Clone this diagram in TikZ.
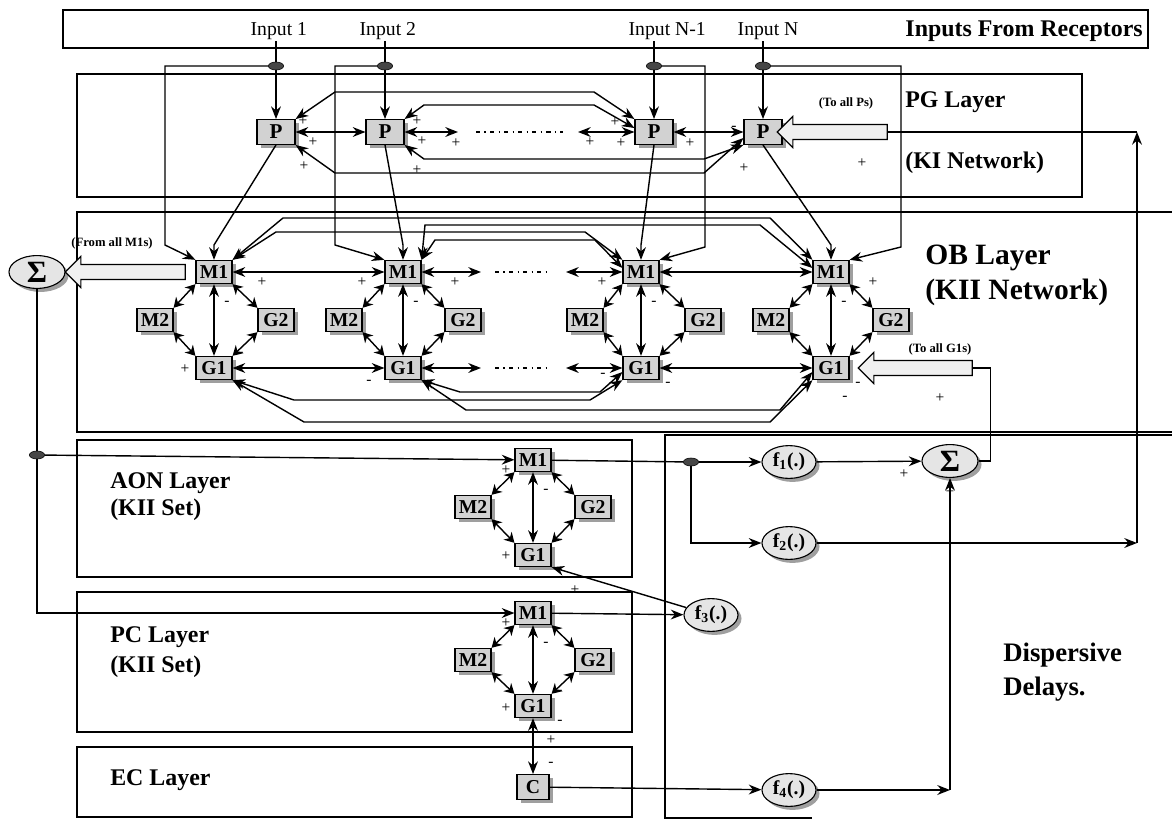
\documentclass[tikz,border=0pt]{standalone}
\usepackage{fontspec}
\setmainfont{Liberation Serif}
\usetikzlibrary{calc, positioning, arrows.meta, shapes.geometric, shapes.arrows, shadows}

\begin{document}
\begin{tikzpicture}[
  x=0.025cm, y=-0.025cm,
  unit/.style={rectangle, draw, thick, fill=gray!35, inner sep=1pt,
    drop shadow={shadow xshift=2.5pt, shadow yshift=-2.5pt, fill=gray!75, opacity=1},
    minimum width=0.9cm, minimum height=0.58cm, font=\fontsize{14}{14}\selectfont\bfseries},
  delay/.style={ellipse, draw, thick, fill=gray!20, inner sep=0pt,
    drop shadow={shadow xshift=2.5pt, shadow yshift=-2.5pt, fill=gray!75, opacity=1},
    minimum width=1.35cm, minimum height=0.82cm, font=\fontsize{14}{14}\selectfont\bfseries},
  split/.style={ellipse, draw, fill=gray!55!black, minimum width=0.38cm, minimum height=0.2cm, inner sep=0pt},
  hollow/.style={single arrow, draw, thick, fill=gray!12, inner xsep=0pt, inner ysep=0.17cm,
    single arrow head extend=0.2cm, minimum width=0.78cm, shape border rotate=180},
  link/.style={line width=1pt, -{Stealth[length=9pt,width=7pt]}},
  both/.style={line width=1pt, {Stealth[length=9pt,width=7pt]}-{Stealth[length=9pt,width=7pt]}},
  ring/.style={line width=1pt, {Stealth[length=7pt,width=8pt]}-{Stealth[length=7pt,width=8pt]}},
  dashdot/.style={line width=1pt, dash pattern=on 3pt off 3pt on 1pt off 3pt},
  box/.style={line width=1pt},
  sgn/.style={font=\fontsize{11}{11}\selectfont, inner sep=0pt},
  tiny/.style={font=\fontsize{9}{9}\selectfont\bfseries, inner sep=0pt},
  inlabel/.style={font=\fontsize{14}{14}\selectfont, anchor=west, inner sep=1pt},
  layer/.style={font=\fontsize{17}{20}\selectfont\bfseries, anchor=west, align=left, inner sep=0pt}
]
  \useasboundingbox (0,0) rectangle (1172,822);

  % layer boxes
  \draw[box] (63,10) rectangle (1148,48);
  \draw[box] (77,74) rectangle (1082,197);
  \draw[box] (1172,212) -- (77,212) -- (77,432) -- (1172,432);
  \draw[box] (1172,435) -- (665,435) -- (665,818) -- (812,818);
  \draw[box] (77,440) rectangle (632,577);
  \draw[box] (77,592) rectangle (632,732);
  \draw[box] (77,747) rectangle (632,817);

  % layer names
  \node[layer, anchor=east] (rcp) at (1143,31) {Inputs From Receptors};
  \node[layer] (pgname) at (905,102) {PG Layer};
  \node[layer] (pgnet) at (905,163) {(KI Network)};
  \node[layer, font=\fontsize{21}{26}\selectfont\bfseries] (obname) at (925,258) {OB Layer};
  \node[layer, font=\fontsize{21}{26}\selectfont\bfseries] (obnet) at (925,292) {(KII Network)};
  \node[layer] (aonname) at (110,483) {AON Layer};
  \node[layer] (aonset) at (110,510) {(KII Set)};
  \node[layer] (pcname) at (110,637) {PC Layer};
  \node[layer] (pcset) at (110,667) {(KII Set)};
  \node[layer] (ecname) at (110,780) {EC Layer};
  \node[layer, font=\fontsize{19}{24}\selectfont\bfseries] (dd) at (1003,672) {Dispersive\\Delays.};

  % inputs and PG layer
  \node[inlabel] (in1) at (249,31) {Input 1};
  \node[inlabel] (in2) at (358,31) {Input 2};
  \node[inlabel] (in3) at (627,31) {Input N-1};
  \node[inlabel] (in4) at (736,31) {Input N};
  \node[split] (o1) at (276,66) {};
  \node[split] (o2) at (385,66) {};
  \node[split] (o3) at (654,66) {};
  \node[split] (o4) at (763,66) {};
  \node[unit, minimum width=0.95cm, minimum height=0.62cm, font=\fontsize{15}{15}\selectfont\bfseries] (P1) at (276,132) {P};
  \node[unit, minimum width=0.95cm, minimum height=0.62cm, font=\fontsize{15}{15}\selectfont\bfseries] (P2) at (385,132) {P};
  \node[unit, minimum width=0.95cm, minimum height=0.62cm, font=\fontsize{15}{15}\selectfont\bfseries] (P3) at (654,132) {P};
  \node[unit, minimum width=0.95cm, minimum height=0.62cm, font=\fontsize{15}{15}\selectfont\bfseries] (P4) at (763,132) {P};
  \foreach \i in {1,2,3,4} {
    \draw[line width=1pt] (o\i |- in\i.south) -- (o\i);
    \draw[link] (o\i) -- (P\i);
  }

  % OB layer units
  \foreach \i/\xm/\xl/\xr in {1/214/155/276, 2/403/344/463, 3/641/585/703, 4/831/771/891} {
    \node[unit] (M1-\i) at (\xm,272) {M1};
    \node[unit] (M2-\i) at (\xl,320) {M2};
    \node[unit] (G2-\i) at (\xr,320) {G2};
    \node[unit] (G1-\i) at (\xm,368) {G1};
  }
  % AON and PC units, EC
  \node[unit] (M1-aon) at (533,460) {M1};
  \node[unit] (M2-aon) at (473,507) {M2};
  \node[unit] (G2-aon) at (593,507) {G2};
  \node[unit] (G1-aon) at (533,555) {G1};
  \node[unit] (M1-pc) at (533,613) {M1};
  \node[unit] (M2-pc) at (473,660) {M2};
  \node[unit] (G2-pc) at (593,660) {G2};
  \node[unit] (G1-pc) at (533,706) {G1};
  \node[unit, minimum width=0.8cm, minimum height=0.62cm] (C) at (533,787) {C};

  \foreach \u in {1,2,3,4,aon,pc} {
    \draw[ring] (M1-\u.south west) -- (M2-\u.north east);
    \draw[ring] (M1-\u.south east) -- (G2-\u.north west);
    \draw[ring] (M2-\u.south east) -- (G1-\u.north west);
    \draw[ring] (G2-\u.south west) -- (G1-\u.north east);
    \draw[both] (M1-\u) -- (G1-\u);
    \node[sgn] at ($(M1-\u)+(13,31)$) {-};
    \node[sgn] at ($(G1-\u)+(27,-14)$) {-};
    \node[sgn] at ($(G1-\u)+(27,16)$) {-};
  }

  % PG lateral links
  \draw[both] (P1) -- (P2);
  \draw[both] (P2) -- (458,132);
  \draw[dashdot] (476,132) -- (563,132);
  \draw[both] (578,132) -- (P3);
  \draw[both] (P3) -- (P4);
  \draw[both] (P1.north east) -- (335,92) -- (594,92) -- (P3.north west);
  \draw[both] (P2.north east) -- (424,105) -- (594,105) -- ($(P3.west)+(0,-4)$);
  \draw[both] (P2.south east) -- (424,159) -- (704,159) -- (P4.south west);
  \draw[both] (P1.south east) -- (335,173) -- (704,173) -- ($(P4.west)+(0,6)$);
  \node[sgn] at (303,121) {+};
  \node[sgn] at (313,142) {+};
  \node[sgn] at (304,166) {+};
  \node[sgn] at (417,121) {+};
  \node[sgn] at (422,141) {+};
  \node[sgn] at (417,170) {+};
  \node[sgn] at (456,143) {+};
  \node[sgn] at (590,142) {+};
  \node[sgn] at (615,122) {+};
  \node[sgn] at (621,143) {+};
  \node[sgn] at (690,143) {+};
  \node[sgn] at (734,128) {-};
  \node[sgn] at (744,168) {+};
  \node[sgn] at (862,163) {+};

  % PG to OB
  \draw[link] (o1.west) -| (165,245) -- (M1-1.north west);
  \draw[link] (o2.west) -| (335,245) -- (M1-2.north west);
  \draw[link] (o3.east) -| (705,247) -- (M1-3.north east);
  \draw[link] (o4.east) -| (901,247) -- (M1-4.north east);
  \draw[link] (P1.south) -- (214,245) -- (M1-1.north);
  \draw[link] (P2.south) -- (403,245) -- (M1-2.north);
  \draw[link] (P3.south) -- (641,245) -- (M1-3.north);
  \draw[link] (P4.south) -- (831,245) -- (M1-4.north);

  % OB lateral links
  \draw[both] (M1-1) -- (M1-2);
  \draw[both] (M1-2) -- (481,272);
  \draw[dashdot] (495,272) -- (550,272);
  \draw[both] (566,272) -- (M1-3);
  \draw[both] (M1-3) -- (M1-4);
  \draw[both] (G1-1) -- (G1-2);
  \draw[both] (G1-2) -- (481,368);
  \draw[dashdot] (495,368) -- (550,368);
  \draw[both] (566,368) -- (G1-3);
  \draw[both] (G1-3) -- (G1-4);
  \draw[both] (M1-1.north east) -- (283,218) -- (770,218) -- (M1-4.north west);
  \draw[both] (M1-1.north east) -- (276,232) -- (585,232) -- (M1-3.north west);
  \draw[both] (M1-2.north east) -- (425,225) -- (760,225) -- ($(M1-4.west)+(0,-4)$);
  \draw[both] (M1-2.north east) -- (435,240) -- (595,240) -- ($(M1-3.west)+(0,-4)$);
  \draw[both] (G1-1.south east) -- (294,400) -- (590,400) -- (G1-3.south west);
  \draw[both] (G1-1.south east) -- (304,422) -- (770,422) -- (G1-4.south west);
  \draw[both] (G1-2.south east) -- (460,392) -- (600,392) -- ($(G1-3.west)+(0,4)$);
  \draw[both] (G1-2.south east) -- (466,410) -- (780,410) -- ($(G1-4.west)+(0,4)$);
  \node[sgn] at (262,282) {+};
  \node[sgn] at (185,369) {+};
  \node[sgn] at (362,282) {+};
  \node[sgn] at (455,282) {+};
  \node[sgn] at (602,282) {+};
  \node[sgn] at (603,375) {-};
  \node[sgn] at (369,382) {-};
  \node[sgn] at (873,282) {+};
  \node[sgn] at (845,398) {-};

  % summing nodes and hollow arrows
  \node[delay, minimum width=1.4cm, font=\fontsize{22}{22}\selectfont\bfseries] (sumL) at (37,272) {Σ};
  \node[tiny] (fromM1) at (112,243) {(From all M1s)};
  \node[hollow, minimum height=3.0cm] (toSum) at (129,272) {};
  \node[tiny] (allP) at (846,103) {(To all Ps)};
  \node[hollow, minimum height=2.75cm] (toPs) at (836,132) {};
  \node[tiny] (allG1) at (940,349) {(To all G1s)};
  \node[hollow, minimum height=2.85cm] (toG1) at (919,368) {};
  \node[sgn] at (940,398) {+};

  % AON, PC and EC wiring
  \node[split] (oL) at (37,455) {};
  \draw[line width=1pt] (sumL) -- (oL);
  \draw[link] (oL) -- (M1-aon);
  \draw[link] (oL.south) |- (M1-pc.west);
  \draw[both] (G1-pc) -- (C);
  \node[sgn] at (506,470) {+};
  \node[sgn] at (506,556) {+};
  \node[sgn] at (506,623) {+};
  \node[sgn] at (506,708) {+};
  \node[sgn] at (551,740) {+};
  \node[sgn] at (551,764) {-};

  % dispersive delays
  \node[split] (oR) at (691,462) {};
  \node[delay] (f1) at (789,462) {f\textsubscript{1}(.)};
  \node[delay] (f2) at (789,543) {f\textsubscript{2}(.)};
  \node[delay] (f3) at (711,615) {f\textsubscript{3}(.)};
  \node[delay] (f4) at (789,790) {f\textsubscript{4}(.)};
  \node[delay, minimum width=1.4cm, font=\fontsize{22}{22}\selectfont\bfseries] (sumR) at (950,461) {Σ};
  \coordinate (fbk) at (1137,543);
  \coordinate (fbkTop) at (1137,132);
  \coordinate (cnr4) at (950,790);

  \draw[line width=1pt] (M1-aon) -- (oR);
  \draw[link] (oR) -- (f1);
  \draw[link] (oR.south) |- (f2);
  \draw[link] (f1) -- (sumR);
  \draw[link] (f2) -- (fbk);
  \draw[link] (fbk) -- (fbkTop);
  \draw[line width=1pt] (fbkTop) -- (toPs.tail);
  \draw[link] (M1-pc) -- (f3);
  \draw[link] (f3) -- (G1-aon.south east);
  \draw[link] (C) -- (f4);
  \draw[link] (f4) -- (cnr4);
  \draw[link] (cnr4) -- (sumR);
  \draw[line width=1pt] (sumR.east) -- ++(12,0) |- (toG1.tail);
  \node[sgn] at (904,474) {+};
  \node[sgn] at (950,492) {+};
  \node[sgn] at (575,590) {+};
\end{tikzpicture}
\end{document}
